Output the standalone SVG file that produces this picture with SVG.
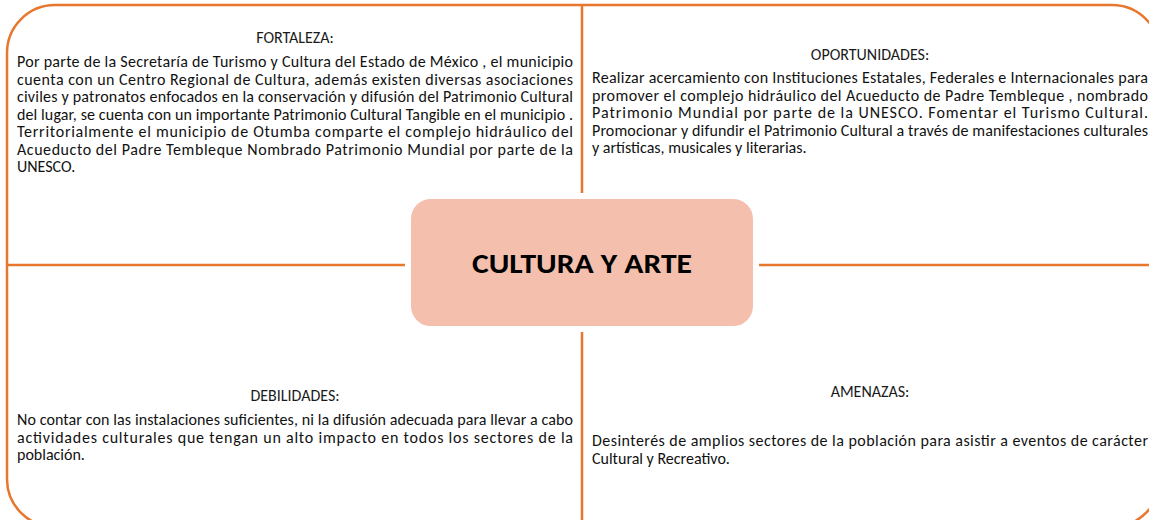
<svg xmlns="http://www.w3.org/2000/svg" width="1149" height="520" viewBox="0 0 1149 520">
<style>
.frame{fill:none;stroke:#E8772E;stroke-width:2.5}
.conn{stroke:#E8772E;stroke-width:2.5;fill:none}
.hd{font-family:Carlito,Lato,"Liberation Sans",sans-serif;font-size:16px;fill:#1a1a1a;text-anchor:middle}
.tx{font-family:Carlito,Lato,"Liberation Sans",sans-serif;font-size:16px;fill:#111}
.title{font-family:Carlito,Lato,"Liberation Sans",sans-serif;font-size:29px;font-weight:bold;fill:#000;text-anchor:middle}
</style>
<rect width="1149" height="520" fill="#fff"/>
<rect class="frame" x="7" y="5" width="1153" height="522" rx="48"/>
<g id="connectors">
<line class="conn" x1="582" y1="5" x2="582" y2="527"/>
<line class="conn" x1="7" y1="265" x2="1160" y2="265"/>
</g>
<g id="fortaleza">
<text class="hd" x="295" y="43">FORTALEZA:</text>
<text class="tx" x="17" y="67" textLength="556" lengthAdjust="spacing">Por parte de la Secretaría de Turismo y Cultura del Estado de México , el municipio</text>
<text class="tx" x="17" y="84.5" textLength="556" lengthAdjust="spacing">cuenta con un Centro Regional de Cultura, además existen diversas asociaciones</text>
<text class="tx" x="17" y="102" textLength="556" lengthAdjust="spacing">civiles y patronatos enfocados en la conservación y difusión del Patrimonio Cultural</text>
<text class="tx" x="17" y="119.5" textLength="556" lengthAdjust="spacing">del lugar, se cuenta con un importante Patrimonio Cultural Tangible en el municipio .</text>
<text class="tx" x="17" y="137" textLength="556" lengthAdjust="spacing">Territorialmente el municipio de Otumba comparte el complejo hidráulico del</text>
<text class="tx" x="17" y="154.5" textLength="556" lengthAdjust="spacing">Acueducto del Padre Tembleque Nombrado Patrimonio Mundial por parte de la</text>
<text class="tx" x="17" y="172">UNESCO.</text>
</g>
<g id="oportunidades">
<text class="hd" x="870" y="60">OPORTUNIDADES:</text>
<text class="tx" x="592" y="83" textLength="556" lengthAdjust="spacing">Realizar acercamiento con Instituciones Estatales, Federales e Internacionales para</text>
<text class="tx" x="592" y="100.5" textLength="556" lengthAdjust="spacing">promover el complejo hidráulico del Acueducto de Padre Tembleque , nombrado</text>
<text class="tx" x="592" y="118" textLength="556" lengthAdjust="spacing">Patrimonio Mundial por parte de la UNESCO. Fomentar el Turismo Cultural.</text>
<text class="tx" x="592" y="135.5" textLength="556" lengthAdjust="spacing">Promocionar y difundir el Patrimonio Cultural a través de manifestaciones culturales</text>
<text class="tx" x="592" y="153">y artísticas, musicales y literarias.</text>
</g>
<g id="debilidades">
<text class="hd" x="295" y="401">DEBILIDADES:</text>
<text class="tx" x="17" y="425" textLength="556" lengthAdjust="spacing">No contar con las instalaciones suficientes, ni la difusión adecuada para llevar a cabo</text>
<text class="tx" x="17" y="442.5" textLength="556" lengthAdjust="spacing">actividades culturales que tengan un alto impacto en todos los sectores de la</text>
<text class="tx" x="17" y="460">población.</text>
</g>
<g id="amenazas">
<text class="hd" x="870" y="397">AMENAZAS:</text>
<text class="tx" x="592" y="446" textLength="556" lengthAdjust="spacing">Desinterés de amplios sectores de la población para asistir a eventos de carácter</text>
<text class="tx" x="592" y="463.5">Cultural y Recreativo.</text>
</g>
<g id="cultura-y-arte">
<rect x="408" y="196" width="348" height="133" rx="23" fill="#F4C0AD" stroke="#fff" stroke-width="6"/>
<text class="title" x="582" y="273" textLength="220" lengthAdjust="spacingAndGlyphs">CULTURA Y ARTE</text>
</g>
</svg>
